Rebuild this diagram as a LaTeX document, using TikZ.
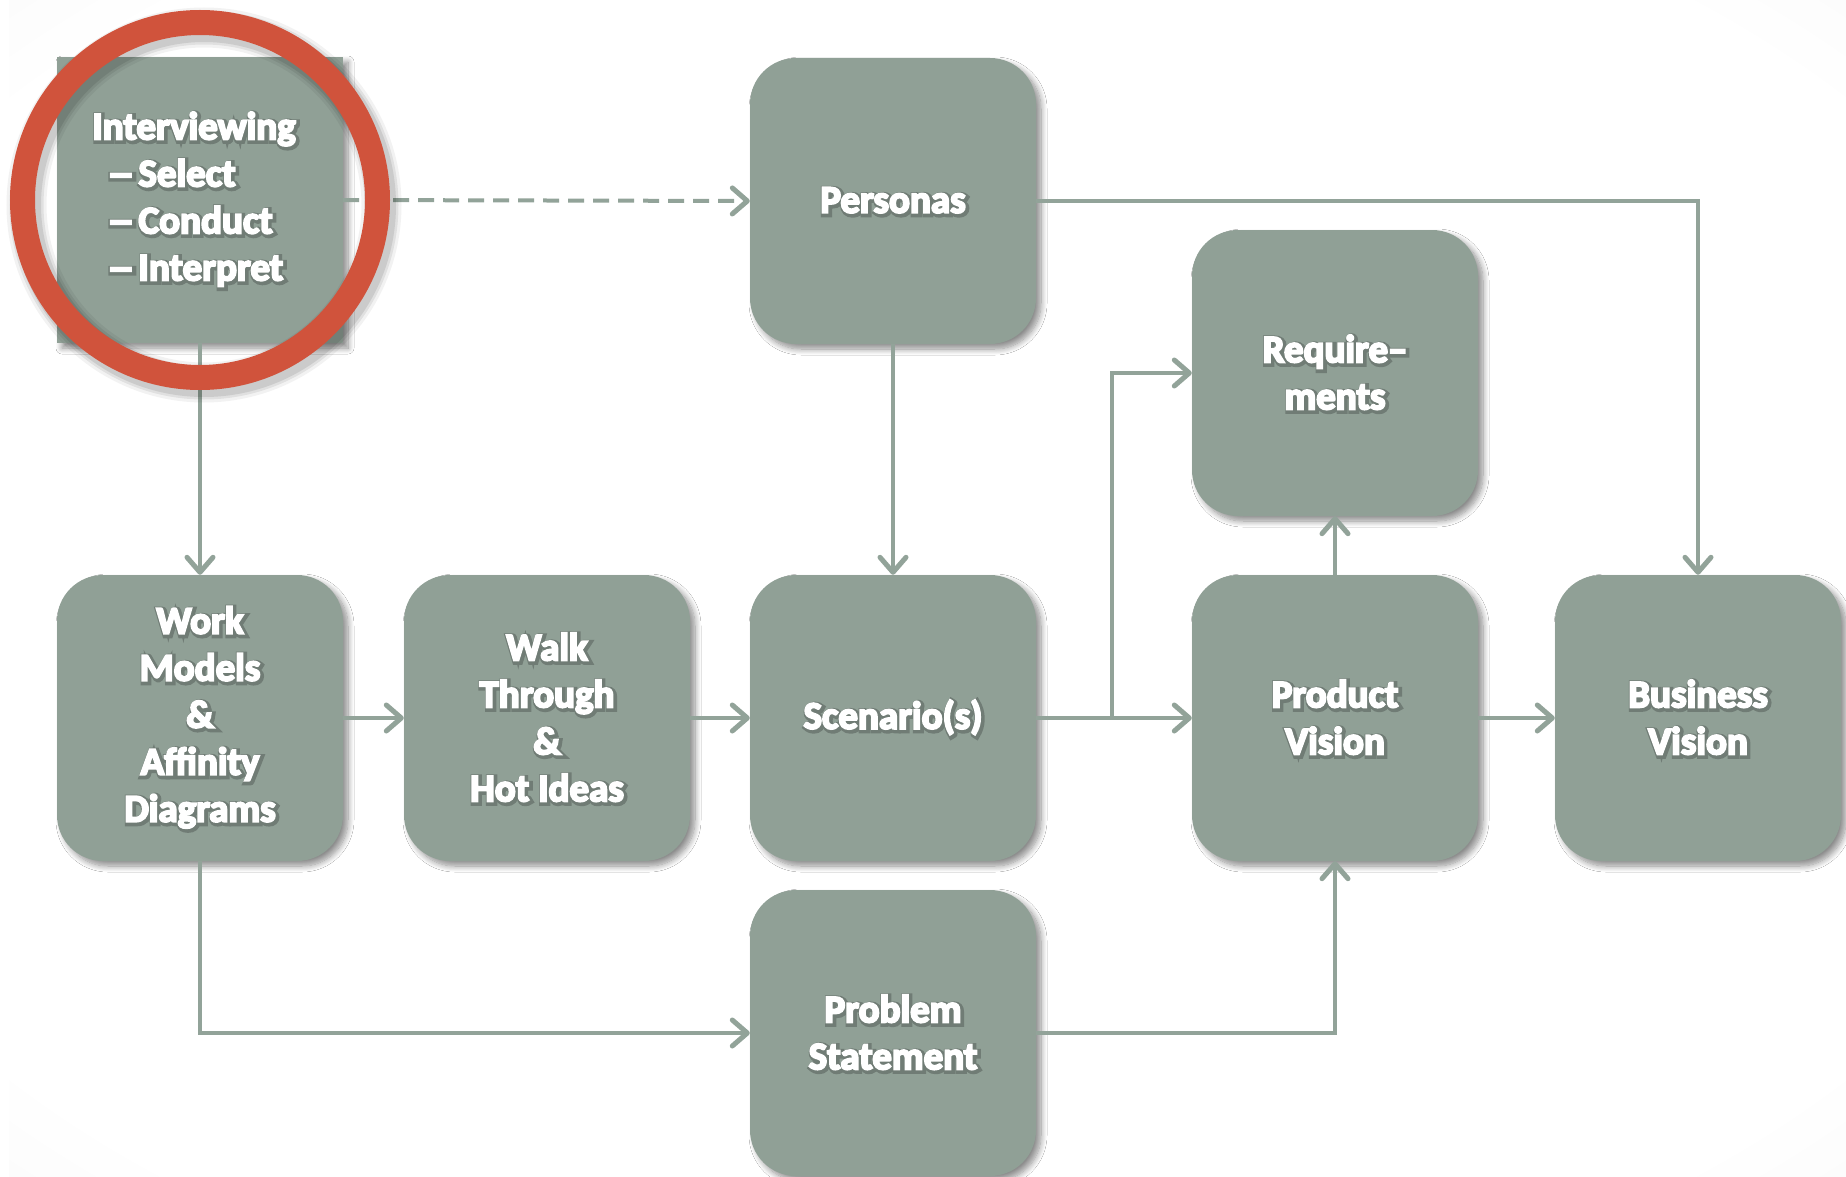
\documentclass[tikz,border=0pt]{standalone}
\usepackage{fontspec}
\usepackage{graphicx}
\setmainfont{Carlito}[BoldFeatures={FakeBold=5}]
\newfontfamily\halofont{Carlito}[UprightFeatures={FakeBold=16},BoldFeatures={FakeBold=16}]
\usetikzlibrary{arrows.meta,shadows.blur}

\definecolor{boxc}{RGB}{144,160,150}
\definecolor{linec}{RGB}{146,163,153}
\definecolor{ringc}{RGB}{208,83,60}
\definecolor{haloc}{RGB}{112,124,117}
\definecolor{bgedge}{RGB}{226,226,226}

% radial vignette for the slide background
\pgfdeclareradialshading{vignette}{\pgfpoint{0bp}{0bp}}{%
  color(0bp)=(white); color(32bp)=(white);
  color(50bp)=(bgedge!55!white); color(72bp)=(bgedge)}

% heavy white label text over a dark, slightly offset halo
\newcommand\glw[1]{%
  \makebox[0pt][l]{\textcolor{haloc}{\halofont\bfseries\hspace*{1.5pt}\raisebox{-1.5pt}{#1}}}%
  #1}
% widened dash for the list items
\newcommand\itemdash{\scalebox{1.4}[1]{–}\hspace{4pt}}

\tikzset{
  stage/.style={fill=boxc, draw=none, rounded corners=46pt,
    minimum width=286pt, minimum height=286pt, inner sep=0pt,
    text=white, align=center,
    font=\fontsize{39}{47}\selectfont\bfseries,
    blur shadow={shadow xshift=5pt, shadow yshift=-5pt,
      shadow blur radius=6pt, shadow opacity=45, shadow blur steps=10}},
  squarestage/.style={stage, rounded corners=0pt, align=left},
  conn/.style={draw=linec, line width=4pt,
    -{Straight Barb[length=15pt,width=26pt,line width=5pt,round]}},
  dashconn/.style={conn, dash pattern=on 16pt off 9pt},
}

\begin{document}
\begin{tikzpicture}[x=1pt,y=-1pt]
\useasboundingbox (0,0) rectangle (1846,1177);
\fill[white] (0,0) rectangle (1846,1177);
\shade[shading=vignette] (9,0) rectangle (1846,1177);

% process stages
\node[squarestage] (intv) at (200,200)
  {\glw{Interviewing}\hspace*{12pt}\\
   \hspace*{15pt}\glw{\itemdash Select}\\
   \hspace*{15pt}\glw{\itemdash Conduct}\\
   \hspace*{15pt}\glw{\itemdash Interpret}};
\node[stage] (pers) at (893,201) {\glw{Personas}};
\node[stage] (reqs) at (1335,373) {\glw{Require–}\\\glw{ments}};
\node[stage] (work) at (200,718)
  {\glw{Work}\\\glw{Models}\\\glw{\&}\\\glw{Affinity}\\\glw{Diagrams}};
\node[stage] (walk) at (547,718)
  {\glw{Walk}\\\glw{Through}\\\glw{\&}\\\glw{Hot Ideas}};
\node[stage] (scen) at (893,718) {\glw{Scenario(s)}};
\node[stage] (prod) at (1335,718) {\glw{Product}\\\glw{Vision}};
\node[stage] (busi) at (1698,718) {\glw{Business}\\\glw{Vision}};
\node[stage] (prob) at (893,1033) {\glw{Problem}\\\glw{Statement}};

% connectors
\draw[dashconn] (intv.east) -- (pers.west);
\draw[conn] (intv.south) -- (work.north);
\draw[conn] (pers.south) -- (scen.north);
\draw[conn] (pers.east) -| (busi.north);
\draw[conn] (work.east) -- (walk.west);
\draw[conn] (walk.east) -- (scen.west);
\draw[conn] (scen.east) -- (prod.west);
\draw[conn] (scen.east) -- ++(76,0) |- (reqs.west);
\draw[conn] (prod.north) -- (reqs.south);
\draw[conn] (prod.east) -- (busi.west);
\draw[conn] (work.south) |- (prob.west);
\draw[conn] (prob.east) -| (prod.south);

% highlight ring around the first stage, with a soft shadow
\foreach \w/\o in {40/0.05, 34/0.07, 29/0.09}
  \draw[black, opacity=\o, line width=\w pt] (204,205) circle[radius=177.5pt];
\draw[ringc, line width=25pt] (200,200) circle[radius=177.5pt];
\end{tikzpicture}
\end{document}
